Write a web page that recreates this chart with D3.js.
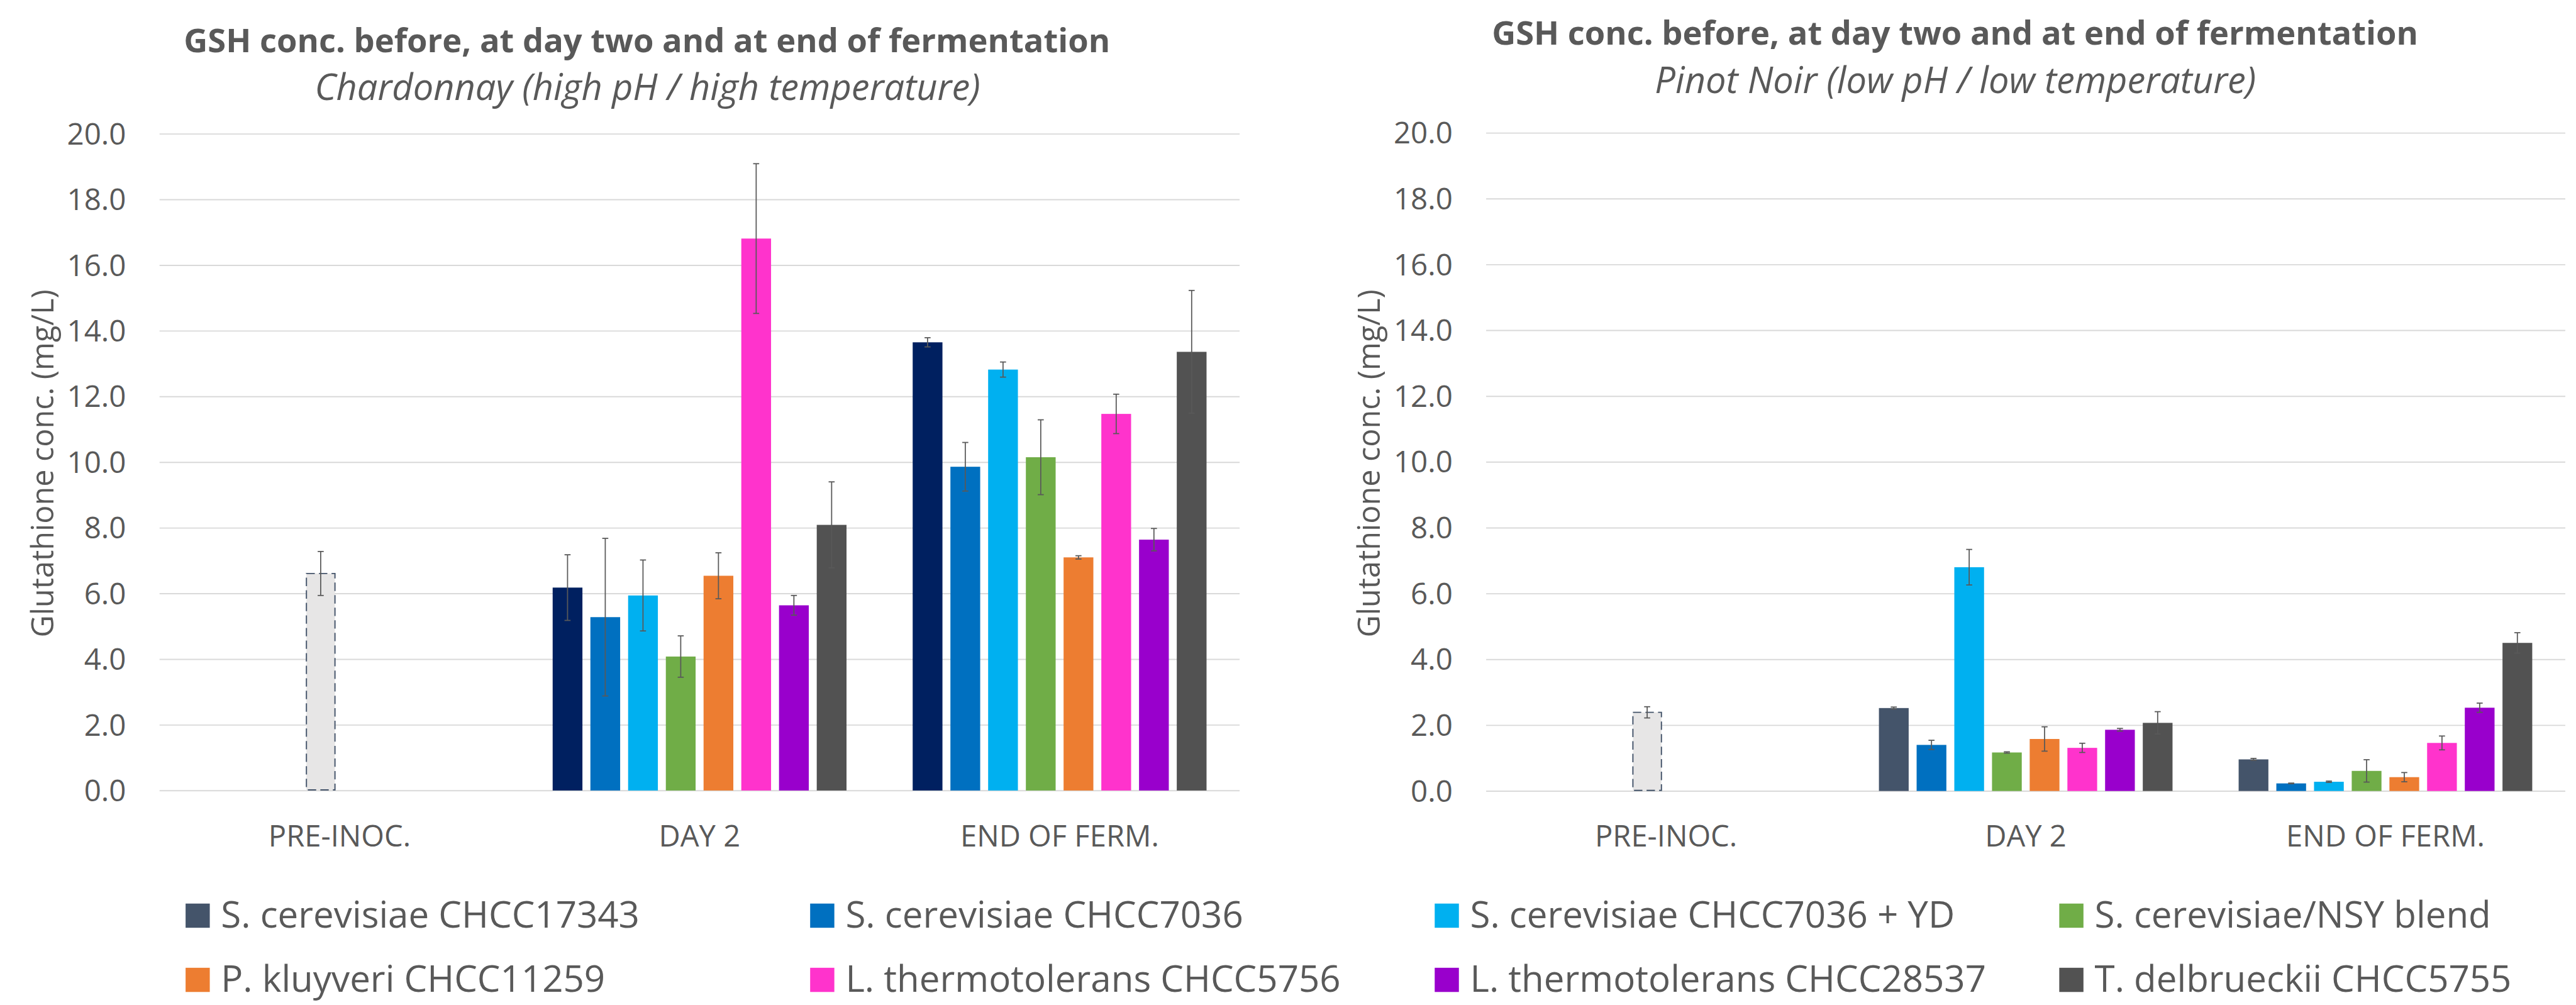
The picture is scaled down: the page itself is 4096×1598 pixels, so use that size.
<!DOCTYPE html>
<html>
<head>
<meta charset="utf-8">
<script src="https://cdn.jsdelivr.net/npm/d3@7"></script>
<style>
  html, body { margin: 0; padding: 0; background: #ffffff; }
  svg { display: block; }
  text { font-family: "Open Sans", "DejaVu Sans", sans-serif; fill: #595959; }
</style>
</head>
<body>
<svg id="chart"></svg>
<script>
// ---------------- DATA ----------------
const categories = ["PRE-INOC.", "DAY 2", "END OF FERM."];
const seriesNames = [
  "S. cerevisiae CHCC17343", "S. cerevisiae CHCC7036", "S. cerevisiae CHCC7036 + YD", "S. cerevisiae/NSY blend",
  "P. kluyveri CHCC11259", "L. thermotolerans CHCC5756", "L. thermotolerans CHCC28537", "T. delbrueckii CHCC5755"
];
const seriesColors = ["#44546A", "#0070C0", "#00B0F0", "#70AD47", "#ED7D31", "#FF33CC", "#9900CC", "#525252"];
const chardonnayFirstColor = "#002060";
const yTicks = [0, 2, 4, 6, 8, 10, 12, 14, 16, 18, 20];

const titleText = "GSH conc. before, at day two and at end of fermentation";
const chardonnaySubtitle = "Chardonnay (high pH / high temperature)";
const pinotSubtitle = "Pinot Noir (low pH / low temperature)";
const yAxisTitle = "Glutathione conc. (mg/L)";

// Chardonnay
const chardonnayPre = 6.61, chardonnayPreErr = 0.67;
const chardonnayDay2 = [6.18, 5.28, 5.94, 4.08, 6.54, 16.81, 5.64, 8.09];
const chardonnayDay2Err = [1.00, 2.40, 1.08, 0.63, 0.70, 2.28, 0.30, 1.31];
const chardonnayEnd = [13.65, 9.86, 12.82, 10.15, 7.10, 11.47, 7.64, 13.36];
const chardonnayEndErr = [0.14, 0.74, 0.23, 1.14, 0.05, 0.60, 0.34, 1.87];

// Pinot Noir
const pinotPre = 2.39, pinotPreErr = 0.17;
const pinotDay2 = [2.52, 1.40, 6.80, 1.17, 1.58, 1.31, 1.86, 2.07];
const pinotDay2Err = [0.03, 0.14, 0.54, 0.02, 0.37, 0.14, 0.04, 0.34];
const pinotEnd = [0.96, 0.23, 0.28, 0.61, 0.42, 1.46, 2.53, 4.50];
const pinotEndErr = [0.03, 0.01, 0.02, 0.34, 0.14, 0.21, 0.14, 0.31];

// ---------------- LAYOUT (reference px) ----------------
const W = 5538, H = 2160;
const svg = d3.select("#chart")
  .attr("width", 4096).attr("height", 1598)
  .attr("viewBox", `0 0 ${W} ${H}`)
  .attr("preserveAspectRatio", "none");
svg.append("rect").attr("width", W).attr("height", H).attr("fill", "#ffffff");

function fitSize(weight, style, text, target) {
  const t = svg.append("text").attr("font-size", 100)
    .attr("font-weight", weight).attr("font-style", style).text(text);
  const w = t.node().getComputedTextLength();
  t.remove();
  return 100 * target / w;
}
const titleFS = fitSize(700, "normal", titleText, 1992);
const subFS = fitSize(400, "italic", chardonnaySubtitle, 1431);
const tickFS = fitSize(400, "normal", "20.0", 127);
const catFS = fitSize(400, "normal", "PRE-INOC.", 306);
const ylabFS = fitSize(400, "normal", yAxisTitle, 748);
const legFS = fitSize(400, "normal", seriesNames[0], 900);

const charts = [
  { pre: chardonnayPre, preErr: chardonnayPreErr, day2: chardonnayDay2, day2Err: chardonnayDay2Err,
    end: chardonnayEnd, endErr: chardonnayEndErr, subtitle: chardonnaySubtitle, firstColor: chardonnayFirstColor,
    left: 343, right: 2665, top: 287.6, bottom: 1699, titleX: 1391, titleY: 112, subX: 1392, subY: 215, ylabX: 115 },
  { pre: pinotPre, preErr: pinotPreErr, day2: pinotDay2, day2Err: pinotDay2Err,
    end: pinotEnd, endErr: pinotEndErr, subtitle: pinotSubtitle, firstColor: seriesColors[0],
    left: 3195, right: 5515, top: 285.5, bottom: 1700, titleX: 4203, titleY: 96, subX: 4204, subY: 200, ylabX: 2967 }
];

charts.forEach(c => {
  const g = svg.append("g");
  const x0 = d3.scaleBand().domain(categories).range([c.left, c.right]).padding(0);
  const x1 = d3.scaleBand().domain(d3.range(seriesNames.length))
    .range([0, x0.bandwidth()]).paddingInner(0.211).paddingOuter(0.877);
  const y = d3.scaleLinear().domain([0, 20]).range([c.bottom, c.top]);

  // titles
  g.append("text").attr("x", c.titleX).attr("y", c.titleY).attr("text-anchor", "middle")
    .attr("font-size", titleFS).attr("font-weight", 700).text(titleText);
  g.append("text").attr("x", c.subX).attr("y", c.subY).attr("text-anchor", "middle")
    .attr("font-size", subFS).attr("font-style", "italic").text(c.subtitle);

  // y axis with gridlines
  const yAxis = d3.axisLeft(y).tickValues(yTicks).tickFormat(d3.format(".1f"))
    .tickSize(-(c.right - c.left)).tickPadding(72);
  const ya = g.append("g").attr("transform", `translate(${c.left},0)`).call(yAxis);
  ya.select(".domain").remove();
  ya.selectAll(".tick line").attr("stroke", "#D9D9D9").attr("stroke-width", 2.6);
  ya.selectAll(".tick text").attr("font-size", tickFS).attr("fill", "#595959")
    .attr("font-family", "'Open Sans', 'DejaVu Sans', sans-serif").attr("dy", "0.35em");

  // x axis labels
  const xAxis = d3.axisBottom(x0).tickSize(0).tickPadding(0);
  const xa = g.append("g").attr("transform", `translate(0,${c.bottom})`).call(xAxis);
  xa.select(".domain").remove();
  xa.selectAll(".tick text").attr("font-size", catFS).attr("fill", "#595959")
    .attr("font-family", "'Open Sans', 'DejaVu Sans', sans-serif")
    .attr("y", 1820 - c.bottom).attr("dy", 0);

  // y axis title
  g.append("text").attr("transform", `translate(${c.ylabX},996) rotate(-90)`)
    .attr("text-anchor", "middle").attr("font-size", ylabFS).text(yAxisTitle);

  // bars
  const rows = [];
  c.day2.forEach((v, i) => rows.push({ cat: categories[1], s: i, v, e: c.day2Err[i] }));
  c.end.forEach((v, i) => rows.push({ cat: categories[2], s: i, v, e: c.endErr[i] }));
  const colorOf = i => i === 0 ? c.firstColor : seriesColors[i];

  g.append("g").selectAll("rect").data(rows).join("rect")
    .attr("x", d => x0(d.cat) + x1(d.s))
    .attr("width", x1.bandwidth())
    .attr("y", d => y(d.v))
    .attr("height", d => y(0) - y(d.v))
    .attr("fill", d => colorOf(d.s));

  // pre-inoculation bar (sits in the slot of the blend series)
  const preSlot = 3;
  g.append("rect")
    .attr("x", x0(categories[0]) + x1(preSlot) + 1.3)
    .attr("width", x1.bandwidth() - 2.6)
    .attr("y", y(c.pre))
    .attr("height", y(0) - y(c.pre) - 1.3)
    .attr("fill", "#E7E6E6")
    .attr("stroke", "#44546A").attr("stroke-width", 2.6)
    .attr("stroke-dasharray", "18,9");

  const errs = rows.concat([{ cat: categories[0], s: preSlot, v: c.pre, e: c.preErr }]);
  const eg = g.append("g").attr("stroke", "#595959").attr("stroke-width", 2.4).attr("fill", "none");
  errs.forEach(d => {
    const cx = x0(d.cat) + x1(d.s) + x1.bandwidth() / 2;
    const yt = y(d.v + d.e), yb = y(d.v - d.e);
    eg.append("line").attr("x1", cx).attr("x2", cx).attr("y1", yt).attr("y2", yb);
    eg.append("line").attr("x1", cx - 6.5).attr("x2", cx + 6.5).attr("y1", yt).attr("y2", yt);
    eg.append("line").attr("x1", cx - 6.5).attr("x2", cx + 6.5).attr("y1", yb).attr("y2", yb);
  });
});

// ---------------- LEGEND ----------------
const legCols = d3.scaleBand().domain(d3.range(4)).range([399, 399 + 4 * 1342.7]);
const legRows = d3.scaleBand().domain(d3.range(2)).range([1942, 1942 + 2 * 138]);
const lg = svg.append("g");
seriesNames.forEach((name, i) => {
  const col = i % 4, row = Math.floor(i / 4);
  const gx = legCols(col), gy = legRows(row);
  lg.append("rect").attr("x", gx).attr("y", gy).attr("width", 52).attr("height", 52)
    .attr("fill", seriesColors[i]);
  lg.append("text").attr("x", gx + 76).attr("y", gy + 52).attr("font-size", legFS).text(name);
});
</script>
</body>
</html>
